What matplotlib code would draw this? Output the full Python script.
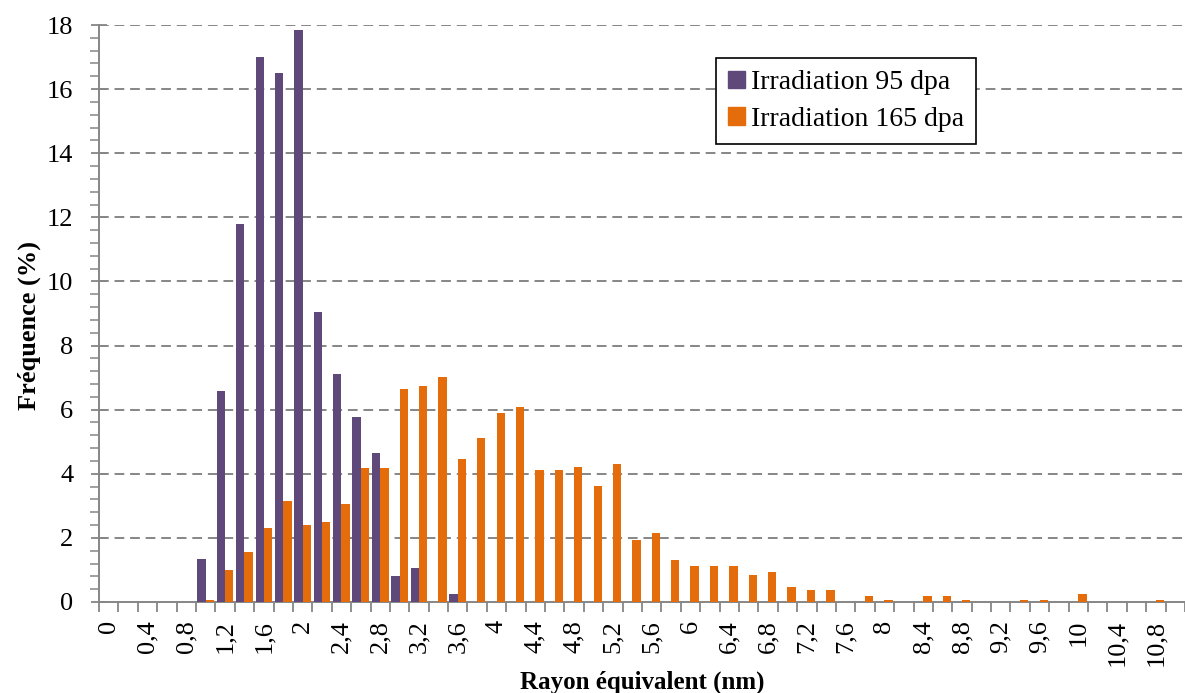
"""Distribution du rayon équivalent - histogramme groupé 95 / 165 dpa."""
import matplotlib
matplotlib.use("Agg")
import matplotlib.pyplot as plt
from matplotlib.patches import Patch
import numpy as np

plt.rcParams["font.family"] = ["Liberation Serif", "DejaVu Serif"]

# categories (nm), labels as in the original (comma decimal)
rayon = ["0", "0,2", "0,4", "0,6", "0,8", "1", "1,2", "1,4", "1,6", "1,8",
         "2", "2,2", "2,4", "2,6", "2,8", "3", "3,2", "3,4", "3,6", "3,8",
         "4", "4,2", "4,4", "4,6", "4,8", "5", "5,2", "5,4", "5,6", "5,8",
         "6", "6,2", "6,4", "6,6", "6,8", "7", "7,2", "7,4", "7,6", "7,8",
         "8", "8,2", "8,4", "8,6", "8,8", "9", "9,2", "9,4", "9,6", "9,8",
         "10", "10,2", "10,4", "10,6", "10,8", "11"]

freq_95 = [0, 0, 0, 0, 0, 1.35, 6.58, 11.8, 17.0, 16.5,
           17.83, 9.05, 7.12, 5.77, 4.65, 0.8, 1.07, 0, 0.25, 0,
           0, 0, 0, 0, 0, 0, 0, 0, 0, 0,
           0, 0, 0, 0, 0, 0, 0, 0, 0, 0,
           0, 0, 0, 0, 0, 0, 0, 0, 0, 0,
           0, 0, 0, 0, 0, 0]

freq_165 = [0, 0, 0, 0, 0, 0.05, 0.99, 1.55, 2.31, 3.15,
            2.40, 2.49, 3.06, 4.18, 4.18, 6.63, 6.73, 7.01, 4.46, 5.13,
            5.9, 6.07, 4.13, 4.13, 4.2, 3.63, 4.3, 1.93, 2.14, 1.3,
            1.11, 1.11, 1.11, 0.83, 0.94, 0.47, 0.37, 0.37, 0, 0.18,
            0.05, 0, 0.18, 0.18, 0.05, 0, 0, 0.05, 0.05, 0,
            0.26, 0, 0, 0, 0.05, 0]

C95 = "#5f497a"
C165 = "#e46c0a"
GREY = "#868686"

fig = plt.figure(figsize=(11.85, 6.93), dpi=100)
ax = fig.add_axes([99 / 1185, 1 - 602 / 693, 1 - 99 / 1185, (602 - 25) / 693])

x = np.arange(len(rayon))
w = 0.43
ax.bar(x - w / 2, freq_95, width=w, color=C95, zorder=3)
ax.bar(x + w / 2, freq_165, width=w, color=C165, zorder=3)

ax.set_xlim(-0.5, len(rayon) - 0.5)
ax.set_ylim(0, 18)

# x: labels every other category, tick marks between categories
ax.set_xticks(x[::2])
ax.set_xticklabels(rayon[::2], rotation=90, fontsize=19, va="top")
ax.set_xticks(np.arange(len(rayon) + 1) - 0.5, minor=True)
ax.tick_params(axis="x", which="major", length=0, pad=13)
ax.tick_params(axis="x", which="minor", length=7, width=1.3, color=GREY, direction="out")

# y
ax.set_yticks(np.arange(0, 19, 2))
ax.set_yticks(np.arange(0, 18.01, 0.4), minor=True)
ax.tick_params(axis="y", which="major", length=12, width=1.3, color=GREY,
               direction="inout", labelsize=19, pad=12.5)
ax.tick_params(axis="y", which="minor", length=6.5, width=1.1, color=GREY, direction="out")

for g in np.arange(2, 19, 2):
    ax.axhline(g, color=GREY, lw=1.4, ls=(0, (5, 3)), zorder=1)

for s in ["top", "right"]:
    ax.spines[s].set_visible(False)
for s in ["left", "bottom"]:
    ax.spines[s].set_color(GREY)
    ax.spines[s].set_linewidth(1.4)

ax.set_ylabel("Fréquence (%)", fontsize=19, fontweight="bold")
ax.yaxis.set_label_coords(-0.053, 0.48)
ax.set_xlabel("Rayon équivalent (nm)", fontsize=18, fontweight="bold", labelpad=3)

handles = [Patch(color=C95, label="Irradiation 95 dpa"),
           Patch(color=C165, label="Irradiation 165 dpa")]
leg = ax.legend(handles=handles, loc="upper left", bbox_to_anchor=(0.568, 0.943),
                borderaxespad=0, fontsize=20, fancybox=False, framealpha=1,
                handlelength=0.6, handleheight=0.6, handletextpad=0.2,
                labelspacing=0.4, borderpad=0.45)
leg.get_frame().set_edgecolor("black")
leg.get_frame().set_linewidth(1.2)

fig.savefig("out.png", dpi=100)
